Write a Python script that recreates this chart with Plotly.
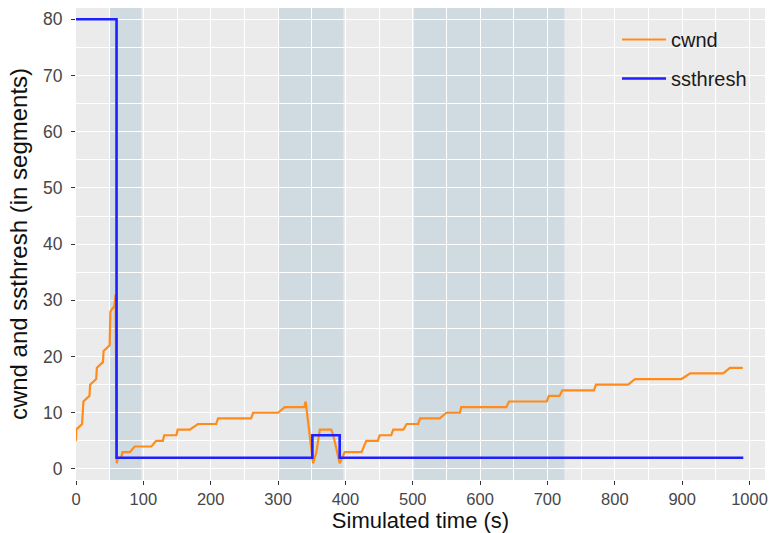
import plotly.graph_objects as go

# TCP congestion window (cwnd) over simulated time, in segments
cwnd_time = [0, 0.3, 9, 11, 20, 21, 30, 31, 40, 41, 50, 51, 57, 58.7, 60.6,
             62, 67, 69, 80, 87, 112, 119, 129, 131, 149, 151, 169, 181, 208,
             211, 260, 263, 300, 310, 339, 341, 352, 357, 362, 379, 382, 391.5,
             399, 424, 431, 448, 451, 468, 471, 486, 491, 508, 511, 540, 550,
             570, 572, 639, 643, 699, 702, 718, 722, 769, 772, 820, 830, 899,
             912, 961, 971, 990]
cwnd_value = [5, 7, 8, 12, 13, 15, 16, 18, 19, 21, 22, 28, 29, 31, 1,
              2, 2, 3, 3, 4, 4, 5, 5, 6, 6, 7, 7, 8, 8,
              9, 9, 10, 10, 11, 11, 12, 1, 3, 7, 7, 6, 1,
              3, 3, 5, 5, 6, 6, 7, 7, 8, 8, 9, 9, 10,
              10, 11, 11, 12, 12, 13, 13, 14, 14, 15, 15, 16, 16,
              17, 17, 18, 18]

# Slow-start threshold (ssthresh)
ssthresh_time = [0, 60.2, 60.2, 351, 351, 391.5, 391.5, 990.8]
ssthresh_value = [80, 80, 2, 2, 6, 6, 2, 2]

# Shaded time windows
shade_start = [50, 300, 502]
shade_end = [97, 397, 725]

x_ticks = [0, 100, 200, 300, 400, 500, 600, 700, 800, 900, 1000]
y_ticks = [0, 10, 20, 30, 40, 50, 60, 70, 80]

fig = go.Figure()

fig.add_trace(go.Scatter(
    x=cwnd_time, y=cwnd_value, mode="lines", name="cwnd",
    line=dict(color="#ff8c1a", width=2.2), legendgroup="a",
))
fig.add_trace(go.Scatter(
    x=ssthresh_time, y=ssthresh_value, mode="lines", name="ssthresh",
    line=dict(color="#1f1fff", width=2.6), legendgroup="b",
))

for s, e in zip(shade_start, shade_end):
    fig.add_shape(
        type="rect", xref="x", yref="paper", x0=s, x1=e, y0=0, y1=1,
        fillcolor="rgba(150,184,205,0.32)", line=dict(width=0), layer="between",
    )

font_family = "Liberation Sans, Arial, sans-serif"

fig.update_xaxes(
    range=[0, 1023], tickvals=x_ticks, ticktext=[str(v) for v in x_ticks],
    showgrid=True, gridcolor="white", gridwidth=1.2,
    minor=dict(dtick=50, tick0=0, showgrid=True, gridcolor="white", gridwidth=0.6),
    ticks="outside", ticklen=4, tickwidth=1.1, tickcolor="#333333",
    tickfont=dict(family=font_family, size=16.5, color="#474747"),
    zeroline=False, showline=False, automargin=False,
    title=dict(text="Simulated time (s)",
               font=dict(family=font_family, size=22, color="#111111"), standoff=6),
)
fig.update_yaxes(
    range=[-1.96, 82.0], tickvals=y_ticks, ticktext=[str(v) for v in y_ticks],
    showgrid=True, gridcolor="white", gridwidth=1.2,
    minor=dict(dtick=5, tick0=0, showgrid=True, gridcolor="white", gridwidth=0.6),
    ticks="outside", ticklen=4, tickwidth=1.1, tickcolor="#333333",
    tickfont=dict(family=font_family, size=17.5, color="#474747"),
    zeroline=False, showline=False, automargin=False,
    ticklabelstandoff=5,
    title=dict(text="cwnd and ssthresh (in segments)",
               font=dict(family=font_family, size=24, color="#111111"), standoff=8),
)

fig.update_layout(
    width=773, height=533, autosize=False,
    margin=dict(l=76, r=8, t=8, b=53),
    plot_bgcolor="#ebebeb", paper_bgcolor="white",
    legend=dict(
        x=(617 - 76) / (765 - 76), y=(480 - 20) / (480 - 8), yanchor="top",
        bgcolor="rgba(0,0,0,0)", borderwidth=0,
        font=dict(family=font_family, size=20, color="#1a1a1a"),
        tracegroupgap=10, itemwidth=44, traceorder="grouped",
    ),
)

fig.write_html("out.html")
